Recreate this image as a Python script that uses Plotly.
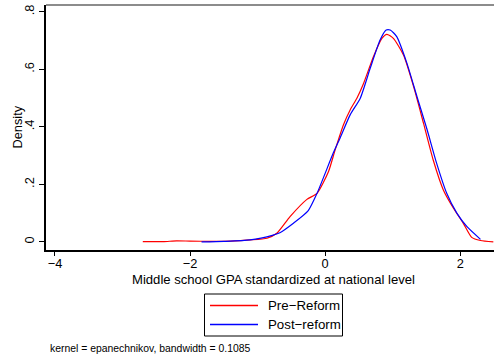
import plotly.graph_objects as go

# Pre-Reform density
pre_x = [-2.70, -2.4, -2.2, -2.0, -1.7, -1.4, -1.11, -0.86, -0.716, -0.52, -0.27, -0.12, 0.05, 0.148,
         0.27, 0.37, 0.47, 0.57, 0.716, 0.84, 0.914, 1.01, 1.16, 1.31, 1.456, 1.60, 1.75, 1.90,
         2.05, 2.17, 2.30, 2.49]
pre_y = [0.001, 0.001, 0.004, 0.003, 0.002, 0.003, 0.007, 0.013, 0.030, 0.088, 0.148, 0.169, 0.245, 0.32,
         0.407, 0.459, 0.50, 0.552, 0.645, 0.708, 0.722, 0.708, 0.65, 0.54, 0.413, 0.285, 0.181, 0.117,
         0.063, 0.016, 0.005, 0.0]

# Post-reform density
post_x = [-1.83, -1.5, -1.11, -0.77, -0.67, -0.47, -0.25, -0.12, 0.12, 0.22, 0.37, 0.52, 0.667, 0.815,
          0.904, 0.963, 1.06, 1.21, 1.36, 1.51, 1.65, 1.80, 1.95, 2.10, 2.30]
post_y = [0.0, 0.002, 0.007, 0.024, 0.032, 0.065, 0.109, 0.169, 0.309, 0.361, 0.442, 0.50, 0.604, 0.703,
          0.737, 0.737, 0.714, 0.622, 0.505, 0.39, 0.274, 0.169, 0.10, 0.053, 0.009]

x_ticks = [-4, -2, 0, 2]
y_ticks = [0, 0.2, 0.4, 0.6, 0.8]
y_ticklabels = ["0", ".2", ".4", ".6", ".8"]

series_names = ["Pre\u2212Reform", "Post\u2212reform"]
series_colors = ["#ff0000", "#0000ff"]

FONT = "Liberation Sans, Arial, sans-serif"
W, H = 494, 358
L, R, T, B = 46, 0, 5, 108
PW, PH = W - L - R, H - T - B


def px(xp):
    return (xp - L) / PW


def py(yp):
    return (H - B - yp) / PH


fig = go.Figure()
for xs, ys, nm, col in [(pre_x, pre_y, series_names[0], series_colors[0]),
                        (post_x, post_y, series_names[1], series_colors[1])]:
    fig.add_trace(go.Scatter(x=xs, y=ys, mode="lines", name=nm, showlegend=False,
                             line=dict(color=col, width=1.2, shape="spline", smoothing=0.6)))

shapes = [dict(type="line", xref="paper", yref="paper", x0=0, x1=1, y0=1, y1=1,
               line=dict(color="#666666", width=1.5)),
          dict(type="rect", xref="paper", yref="paper", x0=px(204.5), x1=px(342.5),
               y0=py(294), y1=py(336), line=dict(color="black", width=1), fillcolor="white",
               layer="below")]
annotations = [
    dict(text="kernel = epanechnikov, bandwidth = 0.1085", xref="paper", yref="paper",
         x=px(48), y=py(348), xanchor="left", yanchor="middle",
         showarrow=False, font=dict(size=10.4)),
    dict(text="Middle school GPA standardized at national level", xref="paper", yref="paper",
         x=px(273.5), y=py(279), xanchor="center", yanchor="middle", showarrow=False,
         font=dict(size=13.1)),
    dict(text="Density", xref="paper", yref="paper", x=px(16.5), y=py(127),
         xanchor="center", yanchor="middle", textangle=-90, showarrow=False,
         font=dict(size=12.8)),
]
for i, (nm, col) in enumerate(zip(series_names, series_colors)):
    yy = 305.5 + i * 19
    shapes.append(dict(type="line", xref="paper", yref="paper", x0=px(210), x1=px(258),
                       y0=py(yy), y1=py(yy), line=dict(color=col, width=1.4)))
    annotations.append(dict(text=nm, xref="paper", yref="paper", x=px(266), y=py(yy),
                            xanchor="left", yanchor="middle", showarrow=False,
                            font=dict(size=13.3)))

fig.update_layout(
    width=W, height=H,
    margin=dict(l=L, r=R, t=T, b=B, autoexpand=False),
    paper_bgcolor="white", plot_bgcolor="white",
    font=dict(family=FONT, size=12.8, color="black"),
    showlegend=False,
    xaxis=dict(range=[-4.133, 2.5], tickvals=x_ticks, ticks="outside", ticklen=4,
               tickcolor="black", showline=True, linecolor="black", linewidth=1.5,
               showgrid=False, zeroline=False, automargin=False, ticklabelstandoff=-3),
    yaxis=dict(range=[-0.028, 0.824], tickvals=y_ticks, ticktext=y_ticklabels, tickangle=-90,
               ticks="outside", ticklen=5, tickcolor="black", showline=True, linecolor="black",
               linewidth=1.5, showgrid=False, zeroline=False, automargin=False),
    shapes=shapes,
    annotations=annotations,
)

fig.write_html("out.html", post_script="document.body.style.margin='0';",
               config={"displayModeBar": False})
